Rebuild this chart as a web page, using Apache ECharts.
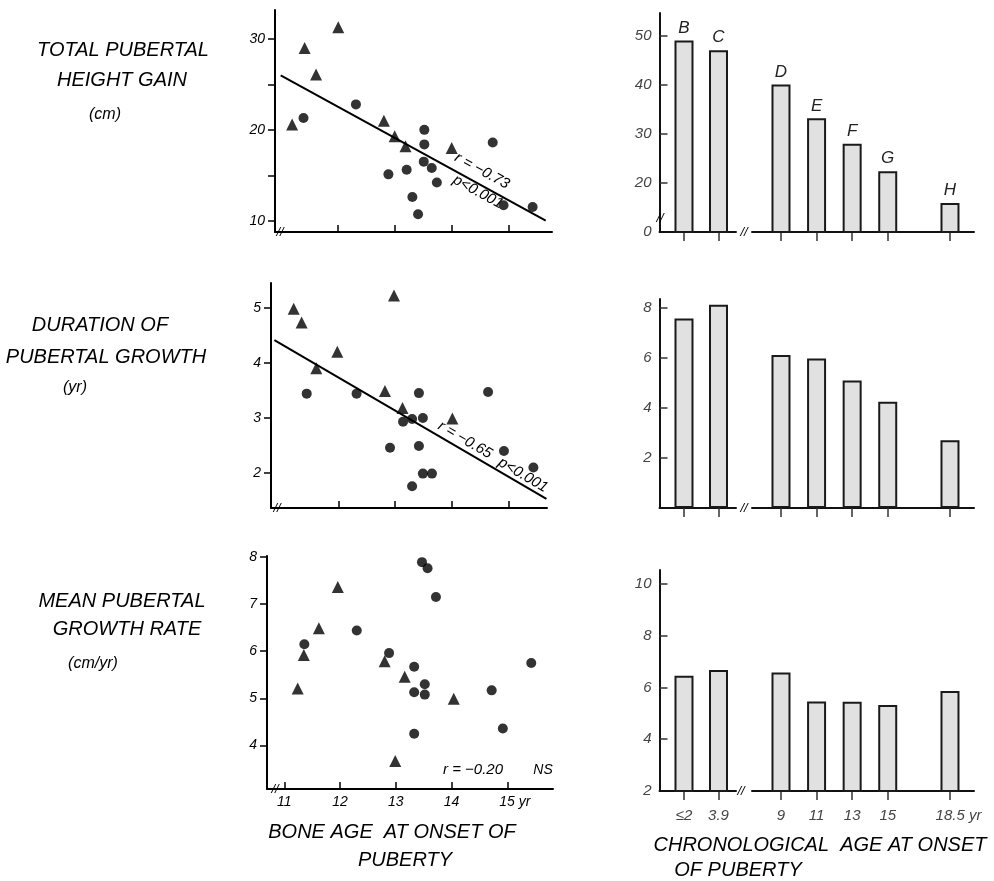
<!DOCTYPE html>
<html><head><meta charset="utf-8">
<script src="https://cdn.jsdelivr.net/npm/echarts@6/dist/echarts.min.js"></script>
<style>html,body{margin:0;padding:0;background:#fff}#c{width:994px;height:881px}</style>
</head><body><div id="c"></div>
<script>
// ---------- Data: bone age at onset of puberty (yr) vs outcome ----------
const gainTriangles = [[11.20,20.6],[11.42,29.0],[11.62,26.1],[12.01,31.3],[12.81,21.0],[13.00,19.3],[13.19,18.2],[14.00,18.0]];
const gainCircles = [[11.40,21.3],[12.32,22.8],[12.89,15.1],[13.21,15.6],[13.31,12.6],[13.41,10.7],[13.52,20.0],[13.52,18.4],[13.51,16.5],[13.65,15.8],[13.74,14.2],[14.72,18.6],[14.91,11.7],[15.42,11.5]];
const gainFit = [[11.0,26.0],[15.65,10.0]];

const durTriangles = [[11.21,4.98],[11.35,4.73],[11.61,3.90],[11.98,4.20],[12.82,3.49],[12.98,5.22],[13.13,3.18],[14.01,2.99]];
const durCircles = [[11.44,3.44],[12.32,3.44],[12.91,2.46],[13.14,2.93],[13.30,2.98],[13.30,1.76],[13.42,3.45],[13.42,2.49],[13.49,3.00],[13.49,1.99],[13.65,1.99],[14.64,3.47],[14.92,2.40],[15.44,2.10]];
const durFit = [[10.87,4.41],[15.67,1.53]];

const rateTriangles = [[11.24,5.21],[11.35,5.92],[11.62,6.49],[11.96,7.36],[12.80,5.79],[12.99,3.67],[13.16,5.46],[14.04,4.99]];
const rateCircles = [[11.36,6.15],[12.30,6.44],[12.88,5.96],[13.33,5.67],[13.33,5.13],[13.33,4.25],[13.47,7.89],[13.57,7.76],[13.52,5.30],[13.52,5.08],[13.72,7.15],[14.72,5.17],[14.92,4.36],[15.43,5.75]];

const boneAgeTicks = [11, 12, 13, 14, 15];
const gainTicks = [10, 15, 20, 25, 30];
const gainTickLabels = [10, 20, 30];
const durTicks = [2, 3, 4, 5];
const rateTicks = [4, 5, 6, 7, 8];

// ---------- Data: chronological age at onset (groups B..H) ----------
const groupLetters = ['B', 'C', 'D', 'E', 'F', 'G', 'H'];
const onsetAges = [2, 3.9, 9, 11, 13, 15, 18.5];
const onsetLabels = ['\u22642', '3.9', '9', '11', '13', '15', '18.5'];
const heightGainBars = [49.1, 47.1, 40.1, 33.2, 28.0, 22.4, 15.9];
const durationBars = [7.58, 8.13, 6.12, 5.98, 5.10, 4.25, 2.71];
const growthRateBars = [6.45, 6.68, 6.58, 5.46, 5.45, 5.32, 5.86];
const gainBarTicks = [10, 20, 30, 40, 50];   // broken axis: baseline shown as 0
const durBarTicks = [2, 4, 6, 8];
const rateBarTicks = [2, 4, 6, 8, 10];

// ---------- Layout ----------
const FF = 'Liberation Sans';
const INK = '#000';
const scatterGrids = [
  {left: 275, top: 10, width: 277, height: 222, xmin: 10.90, xmax: 15.76, ymin: 8.756, ymax: 33.19},
  {left: 271, top: 283, width: 276, height: 225, xmin: 10.81, xmax: 15.68, ymin: 1.366, ymax: 5.447},
  {left: 267, top: 556, width: 286, height: 233, xmin: 10.69, xmax: 15.82, ymin: 3.078, ymax: 8.02}
];
const barRows = [
  {top: 13, height: 219, ymin: 10, ymax: 54.7},
  {top: 299, height: 209, ymin: 0, ymax: 8.36},
  {top: 570, height: 221, ymin: 2, ymax: 10.54}
];
const barLeft = {left: 659.5, width: 76.5, xmin: 0.651, xmax: 4.864};
const barRight = {left: 752, width: 222, xmin: 7.37, xmax: 19.85};

const grids = [], xAxes = [], yAxes = [], series = [];

const scatterYTicks = [gainTicks, durTicks, rateTicks];
const scatterYLabels = [gainTickLabels, durTicks, rateTicks];
const tri = [gainTriangles, durTriangles, rateTriangles];
const cir = [gainCircles, durCircles, rateCircles];
const fits = [gainFit, durFit, null];

scatterGrids.forEach((g, i) => {
  grids.push({left: g.left, top: g.top, width: g.width, height: g.height});
  const last = i === 2;
  xAxes.push({
    gridIndex: grids.length - 1, type: 'value', min: g.xmin, max: g.xmax,
    axisLine: {show: true, onZero: false, lineStyle: {color: INK, width: 2}},
    axisTick: {show: true, inside: true, length: 7, customValues: last ? boneAgeTicks : boneAgeTicks.slice(1), lineStyle: {color: INK, width: 1.5}},
    axisLabel: {show: last, customValues: boneAgeTicks, margin: 6, color: INK, fontFamily: FF, fontStyle: 'italic', fontSize: 14,
      formatter: v => v === 15 ? '{p|}15 yr' : String(v), rich: {p: {width: 15}}},
    splitLine: {show: false}
  });
  yAxes.push({
    gridIndex: grids.length - 1, type: 'value', min: g.ymin, max: g.ymax,
    axisLine: {show: true, onZero: false, lineStyle: {color: INK, width: 2}},
    axisTick: {show: true, inside: false, length: 7, customValues: scatterYTicks[i], lineStyle: {color: INK, width: 1.5}},
    axisLabel: {customValues: scatterYLabels[i], margin: 10, color: INK, fontFamily: FF, fontStyle: 'italic', fontSize: 14},
    splitLine: {show: false}
  });
  const ai = xAxes.length - 1;
  series.push({type: 'scatter', xAxisIndex: ai, yAxisIndex: ai, symbol: 'triangle', symbolSize: 12, itemStyle: {color: INK}, data: tri[i], z: 3});
  series.push({type: 'scatter', xAxisIndex: ai, yAxisIndex: ai, symbol: 'circle', symbolSize: 10, itemStyle: {color: INK}, data: cir[i], z: 3});
  if (fits[i]) series.push({type: 'line', xAxisIndex: ai, yAxisIndex: ai, data: fits[i], symbol: 'none', lineStyle: {color: INK, width: 2}, z: 2});
});

const barVals = [heightGainBars, durationBars, growthRateBars];
const barYTicks = [gainBarTicks, durBarTicks, rateBarTicks];
barRows.forEach((r, i) => {
  [barLeft, barRight].forEach((part, side) => {
    grids.push({left: part.left, width: part.width, top: r.top, height: r.height});
    const gi = grids.length - 1;
    const from = side === 0 ? 0 : 2, to = side === 0 ? 2 : 7;
    const ages = onsetAges.slice(from, to);
    xAxes.push({
      gridIndex: gi, type: 'value', min: part.xmin, max: part.xmax,
      axisLine: {show: true, onZero: false, lineStyle: {color: '#111', width: 2}},
      axisTick: {show: true, inside: false, length: 9, customValues: ages, lineStyle: {color: '#333', width: 1.5}},
      axisLabel: {show: i === 2, customValues: ages, margin: 17, color: '#444', fontFamily: FF, fontStyle: 'italic', fontSize: 15,
        formatter: v => { const k = onsetAges.indexOf(v); return k === 6 ? '{p|}' + onsetLabels[k] + ' yr' : onsetLabels[k]; },
        rich: {p: {width: 17}}},
      splitLine: {show: false}
    });
    yAxes.push({
      gridIndex: gi, type: 'value', min: r.ymin, max: r.ymax, show: side === 0,
      axisLine: {show: true, onZero: false, lineStyle: {color: '#111', width: 2}},
      axisTick: {show: true, inside: true, length: 8, customValues: barYTicks[i].filter(v => v !== r.ymin), lineStyle: {color: '#333', width: 1.5}},
      axisLabel: {customValues: barYTicks[i], margin: 8, color: '#444', fontFamily: FF, fontStyle: 'italic', fontSize: 15,
        formatter: v => (i === 0 && v === 10) ? '0' : String(v)},
      splitLine: {show: false}
    });
    const vals = barVals[i].slice(from, to);
    series.push({
      type: 'bar', xAxisIndex: gi, yAxisIndex: gi, barWidth: 19,
      data: ages.map((a, k) => [a, vals[k]]),
      itemStyle: {color: '#e1e1e1', borderColor: '#1a1a1a', borderWidth: 2},
      label: {show: i === 0, position: 'top', distance: 4, color: '#222', fontFamily: FF, fontStyle: 'italic', fontSize: 17,
        formatter: p => groupLetters[from + p.dataIndex]}
    });
  });
});

function txt(x, y, text, size, extra) {
  return Object.assign({type: 'text', x: x, y: y, z: 10, style: {
    text: text, font: 'italic ' + size + 'px "' + FF + '"', fill: '#000',
    textAlign: 'center', textVerticalAlign: 'middle', align: 'center', verticalAlign: 'middle'}}, extra || {});
}
const graphics = [
  txt(123, 50, 'TOTAL PUBERTAL', 20), txt(122, 80, 'HEIGHT GAIN', 20), txt(105, 115, '(cm)', 16),
  txt(100, 325, 'DURATION OF', 20), txt(106, 357, 'PUBERTAL GROWTH', 20), txt(75, 388, '(yr)', 16),
  txt(122, 601, 'MEAN PUBERTAL', 20), txt(127, 629, 'GROWTH RATE', 20), txt(93, 664, '(cm/yr)', 16),
  txt(392, 832, 'BONE AGE  AT ONSET OF', 20), txt(405, 860, 'PUBERTY', 20),
  txt(820, 845, 'CHRONOLOGICAL  AGE AT ONSET', 20), txt(738, 870, 'OF PUBERTY', 20),
  txt(482, 171, 'r = \u22120.73', 15, {rotation: -0.50}), txt(478, 192, 'p<0.001', 15, {rotation: -0.50}),
  txt(465, 440, 'r = \u22120.65', 15, {rotation: -0.53}), txt(523, 475, 'p<0.001', 15, {rotation: -0.53}),
  txt(473, 770, 'r = \u22120.20', 15), txt(543, 770, 'NS', 14),
  // axis break marks
  txt(280, 232, '//', 13), txt(277, 508, '//', 13), txt(275, 789, '//', 13),
  txt(744, 232, '//', 13), txt(744, 508, '//', 13), txt(741, 791, '//', 13),
  txt(660, 218, '//', 13)
];

const chart = echarts.init(document.getElementById('c'), null, {renderer: 'canvas'});
chart.setOption({
  backgroundColor: '#fff', animation: false,
  grid: grids, xAxis: xAxes, yAxis: yAxes, series: series, graphic: graphics
});
</script></body></html>
